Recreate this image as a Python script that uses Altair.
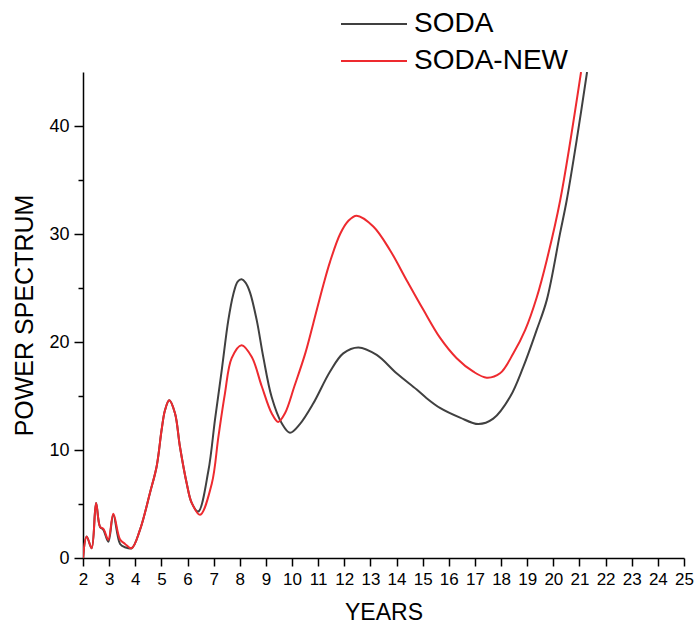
import altair as alt
import pandas as pd

soda_x = [2.0, 2.14, 2.33, 2.5, 2.65, 2.78, 2.97, 3.16, 3.42, 3.61, 3.86, 4.18, 4.56, 4.82,
          5.01, 5.14, 5.30, 5.52, 5.71, 5.97, 6.16, 6.41, 6.80, 7.05, 7.31, 7.56, 7.75, 7.92,
          8.07, 8.22, 8.39, 8.65, 8.90, 9.22, 9.60, 9.92, 10.3, 10.81, 11.45, 11.96, 12.54,
          13.24, 14.0, 14.77, 15.15, 15.66, 16.43, 17.13, 17.70, 18.34, 18.85, 19.36, 19.75,
          20.26, 20.51, 20.9, 21.29]
soda_y = [0.0, 2.0, 0.9, 5.1, 2.9, 2.6, 1.5, 4.0, 1.3, 1.0, 0.9, 2.6, 6.0, 8.5,
          11.9, 13.7, 14.6, 13.4, 10.3, 6.9, 5.1, 4.3, 8.1, 12.8, 17.4, 22.0, 24.4, 25.6,
          25.8, 25.5, 24.6, 22.0, 18.6, 14.9, 12.5, 11.6, 12.4, 14.3, 17.25, 18.95, 19.5,
          18.8, 17.1, 15.6, 14.8, 13.9, 13.0, 12.4, 12.9, 14.9, 17.7, 21.1, 23.9,
          30.1, 33.1, 38.8, 45.0]

new_x = [2.0, 2.14, 2.33, 2.5, 2.65, 2.78, 2.97, 3.16, 3.42, 3.61, 3.86, 4.18, 4.56, 4.82,
         5.01, 5.14, 5.30, 5.52, 5.71, 5.97, 6.16, 6.48, 6.93, 7.18, 7.43, 7.69, 8.07, 8.46,
         8.84, 9.22, 9.47, 9.73, 10.09, 10.5, 10.81, 11.2, 11.45, 11.84, 12.15, 12.47, 13.11,
         13.75, 14.39, 15.02, 15.66, 16.30, 16.94, 17.45, 17.96, 18.47, 18.92, 19.36, 19.75,
         20.26, 21.06]
new_y = [0.0, 2.0, 0.9, 5.1, 2.9, 2.7, 1.7, 4.1, 1.7, 1.3, 0.9, 2.6, 6.0, 8.5,
         11.9, 13.7, 14.6, 13.4, 10.3, 6.9, 5.1, 4.0, 6.9, 11.2, 15.2, 18.5, 19.7, 18.6,
         15.9, 13.4, 12.6, 13.4, 15.9, 18.9, 21.7, 25.3, 27.4, 30.0, 31.2, 31.7, 30.7,
         28.5, 25.7, 23.0, 20.4, 18.5, 17.25, 16.7, 17.1, 18.95, 21.1, 24.1, 27.6,
         33.1, 45.0]

series_names = ["SODA", "SODA-NEW"]
series_colors = ["#404040", "#ee2a2f"]

x_ticks = [v / 2 for v in range(4, 51)]
y_ticks = [v for v in range(0, 45, 5)]

rows = []
for x, y in zip(soda_x, soda_y):
    rows.append({"x": x, "y": y, "s": "SODA"})
for x, y in zip(new_x, new_y):
    rows.append({"x": x, "y": y, "s": "SODA-NEW"})
df = pd.DataFrame(rows)

FONT = "Liberation Sans"

chart = alt.Chart(df).mark_line(interpolate="catmull-rom", strokeWidth=2, clip=True).encode(
    x=alt.X("x:Q", scale=alt.Scale(domain=[2, 25], nice=False, zero=False),
            axis=alt.Axis(title="YEARS", values=x_ticks, grid=False, format="d",
                          labelExpr="datum.value % 1 === 0 ? datum.label : ''",
                          labelOverlap=False,
                          tickSize={"condition": {"test": "datum.value % 1 === 0", "value": 8}, "value": 4},
                          labelPadding=5, titlePadding=14, labelFlush=False)),
    y=alt.Y("y:Q", scale=alt.Scale(domain=[0, 45], nice=False),
            axis=alt.Axis(title="POWER SPECTRUM", values=y_ticks, grid=False, format="d",
                          labelExpr="datum.value % 10 === 0 ? datum.label : ''",
                          labelOverlap=False, labelFontSize=18,
                          tickSize={"condition": {"test": "datum.value % 10 === 0", "value": 9}, "value": 5},
                          labelPadding=5, titlePadding=11, titleFontSize=25)),
    color=alt.Color("s:N", scale=alt.Scale(domain=series_names, range=series_colors),
                    legend=alt.Legend(title=None, orient="none", legendX=277, legendY=-62,
                                      symbolType="M-3,0H3", symbolSize=484, symbolStrokeWidth=2,
                                      labelFontSize=28, labelFont=FONT, labelColor="black",
                                      labelOffset=26, rowPadding=9, labelLimit=400)),
).properties(
    width=601, height=486,
    padding={"left": 83, "top": 72, "right": 10, "bottom": 71},
    autosize=alt.AutoSizeParams(type="none"),
).configure_view(stroke=None).configure_axis(
    domainColor="black", tickColor="black", domainWidth=1.5, tickWidth=1.5,
    labelFont=FONT, titleFont=FONT, labelFontSize=17, labelColor="black",
    titleFontSize=23, titleFontWeight="normal", titleColor="black",
)

chart.save("out.html", embed_options={"renderer": "svg", "actions": False})
